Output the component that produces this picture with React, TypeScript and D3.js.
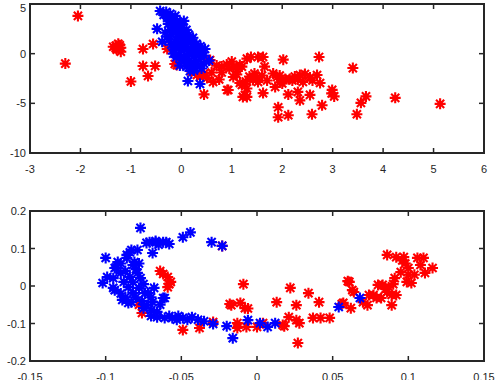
import { useEffect, useRef } from "react";
import * as d3 from "d3";

// top panel: [x, y]
const topRed: [number, number][] = [
  [-2.05, 3.8], [-2.3, -1.0], [-1.3, 0.8], [-1.25, 1.0], [-1.2, 0.6], [-1.28, 0.4], [-1.2, 0.2], [-1.35, 0.7],
  [-1.22, 0.85], [-1.3, 0.55],
  [-1.0, -2.8], [-0.76, -1.24], [-0.66, -2.25], [-0.52, -1.24], [-0.76, 0.47], [-0.56, 0.97], [-0.28, 0.47],
  [-0.13, -1.04], [0.45, -4.1], [0.57, -0.64], [0.9, -1.1], [1.03, -1.3], [1.2, -1.3], [0.37, -2.35], [0.63, -2.85],
  [1.03, -2.35], [1.16, -2.95], [0.93, -3.66], [0.31, -2.15], [0.51, -2.45], [1.3, -0.5], [1.38, -0.33],
  [1.52, -0.33], [1.62, -0.33], [2.02, -0.6], [2.73, -0.33], [3.4, -1.45], [3.66, -4.3], [3.56, -4.95],
  [3.48, -6.1], [4.24, -4.45], [5.13, -5.05], [2.99, -3.65], [3.03, -4.3], [2.98, -4.0], [2.79, -5.2],
  [2.59, -6.1], [2.12, -6.2], [1.92, -6.4], [1.92, -5.4], [2.12, -4.1], [2.35, -4.7], [2.31, -3.85],
  [2.55, -4.15], [2.75, -2.95], [2.69, -2.15], [2.45, -2.05], [2.35, -2.15], [2.41, -2.85], [2.15, -2.55],
  [2.06, -2.55], [1.9, -2.35], [1.82, -2.0], [1.86, -3.35], [1.62, -3.97], [1.52, -2.85], [1.42, -2.65],
  [1.3, -4.35], [1.22, -4.35], [1.2, -3.15], [1.16, -1.15], [0.91, -3.66], [1.26, -4.16], [2.31, -2.6],
  [2.55, -2.4], [1.7, -2.7], [1.6, -2.2], [1.45, -2.0], [1.35, -2.3], [1.3, -3.5], [1.1, -2.1], [0.8, -1.9],
  [0.75, -2.6], [0.8, -1.3], [1.0, -0.8], [1.65, -1.3], [1.95, -2.9], [2.25, -2.3], [2.6, -2.7], [2.0, -3.0],
  [0.2, -1.8], [0.45, -2.0], [0.6, -1.9], [-0.09, -1.15], [0.7, -1.2], [1.1, -1.6], [1.5, -2.4], [2.2, -2.7],
  [1.95, -2.2], [1.28, -2.8], [0.95, -1.5],
];

const topBlue: [number, number][] = [
  [-0.42, 4.3], [-0.3, 4.2], [-0.22, 4.0], [-0.28, 3.6], [-0.18, 3.5], [-0.1, 3.2], [-0.26, 3.0], [-0.15, 2.9],
  [-0.05, 2.8], [0.02, 2.6], [-0.48, 2.5], [-0.22, 2.4], [-0.1, 2.3], [0.05, 2.1], [0.15, 1.9], [-0.2, 1.9],
  [-0.05, 1.7], [0.1, 1.6], [0.23, 1.6], [-0.25, 1.4], [-0.38, 1.2], [-0.12, 1.2], [0.02, 1.2], [0.18, 1.1],
  [0.3, 1.0], [-0.2, 0.9], [-0.05, 0.8], [0.1, 0.7], [0.25, 0.6], [0.47, 0.47], [0.38, 0.4], [-0.15, 0.4],
  [0.0, 0.3], [0.15, 0.2], [0.3, 0.1], [-0.16, 0.0], [-0.05, -0.1], [0.1, -0.2], [0.25, -0.3], [0.4, -0.4],
  [0.55, -0.7], [0.0, -0.6], [0.15, -0.7], [0.3, -0.8], [0.45, -1.0], [-0.03, -1.2], [0.1, -1.3], [0.25, -1.4],
  [0.4, -1.5], [0.2, -1.1], [0.17, -1.75], [0.13, -2.75], [0.37, -3.05], [0.05, 3.3], [-0.12, 3.8],
  [0.08, 0.95], [0.2, 0.35], [0.35, -0.15], [-0.08, 2.0], [-0.2, 3.3], [-0.02, 3.0], [-0.15, 2.6],
  [-0.32, 2.1], [0.1, 2.4], [-0.28, 1.7], [0.2, 1.35], [-0.1, 1.45], [0.05, 1.9], [-0.12, 0.6], [0.12, 0.45],
  [0.05, -0.35], [0.2, -0.05], [-0.1, -0.35], [0.1, -0.95], [0.32, -1.2], [0.45, -0.2], [0.28, 0.3],
  [0.38, 0.75], [-0.35, 3.9], [0.25, -1.7],
];

// bottom panel: [x, y]
const botRed: [number, number][] = [
  [-0.064, 0.04], [-0.059, 0.024], [-0.057, 0.011], [-0.059, -0.003], [-0.023, 0.107], [-0.076, -0.072],
  [-0.078, -0.05], [-0.049, -0.117], [-0.038, -0.112], [-0.029, -0.096], [-0.009, 0.005], [-0.018, -0.048],
  [-0.011, -0.045], [-0.008, -0.059], [-0.013, -0.099], [-0.007, -0.109], [-0.013, -0.112], [-0.017, -0.051],
  [-0.006, -0.06], [0.0, -0.109], [0.004, -0.099], [0.013, -0.043], [0.022, -0.005], [0.026, -0.051],
  [0.034, -0.019], [0.041, -0.043], [0.018, -0.107], [0.021, -0.083], [0.026, -0.091], [0.028, -0.099],
  [0.027, -0.152], [0.037, -0.085], [0.042, -0.085], [0.048, -0.085], [0.017, -0.104], [0.057, -0.045],
  [0.061, 0.011], [0.063, -0.011], [0.062, -0.059], [0.07, -0.043], [0.073, -0.051], [0.074, -0.024],
  [0.079, -0.032], [0.08, 0.003], [0.06, 0.013], [0.064, -0.016], [0.056, -0.048], [0.077, -0.024],
  [0.083, 0.003], [0.086, -0.016], [0.089, -0.024], [0.089, -0.051], [0.092, -0.024], [0.086, 0.083],
  [0.092, 0.077], [0.097, 0.077], [0.095, 0.037], [0.1, 0.048], [0.099, 0.011], [0.102, 0.008],
  [0.106, 0.075], [0.11, 0.075], [0.108, 0.056], [0.111, 0.035], [0.116, 0.048], [0.091, 0.021],
  [0.087, -0.003], [0.082, -0.032], [0.098, 0.06], [0.104, 0.03], [0.096, 0.068], [0.1, 0.03],
  [0.085, -0.008], [0.09, 0.005], [-0.062, 0.032], [-0.058, 0.005],
];

const botBlue: [number, number][] = [
  [-0.1, 0.075], [-0.077, 0.155], [-0.102, 0.008], [-0.099, 0.024], [-0.094, -0.011], [-0.093, 0.05],
  [-0.089, -0.037], [-0.086, 0.083], [-0.083, 0.096], [-0.079, 0.096], [-0.081, 0.064], [-0.082, 0.01],
  [-0.077, 0.021], [-0.083, -0.043], [-0.075, -0.059], [-0.073, 0.115], [-0.067, 0.117], [-0.069, 0.088],
  [-0.062, 0.117], [-0.06, 0.117], [-0.072, -0.019], [-0.069, -0.043], [-0.062, -0.032], [-0.066, -0.083],
  [-0.061, -0.085], [-0.056, -0.085], [-0.049, -0.085], [-0.046, -0.09], [-0.039, -0.09], [-0.029, -0.101],
  [-0.02, -0.107], [-0.016, -0.139], [-0.049, 0.13], [-0.044, 0.143], [-0.03, 0.117], [-0.023, 0.107],
  [-0.094, 0.048], [-0.092, 0.064], [-0.086, 0.075], [-0.082, 0.056], [-0.084, 0.024], [-0.095, -0.005],
  [-0.085, -0.045], [-0.082, -0.019], [-0.074, -0.019], [-0.073, -0.051], [-0.066, -0.069], [-0.061, -0.032],
  [-0.071, 0.117], [-0.065, 0.11], [-0.095, 0.021], [-0.088, 0.011], [-0.085, -0.003], [-0.078, -0.005],
  [-0.07, -0.03], [-0.058, -0.08], [-0.053, -0.09], [-0.043, -0.083], [-0.035, -0.094], [-0.006, -0.091],
  [0.002, -0.099], [0.007, -0.109], [0.012, -0.099], [0.054, -0.056], [0.068, -0.032], [-0.09, 0.035],
  [-0.079, 0.035], [-0.087, 0.04], [-0.08, -0.03], [-0.076, -0.04], [-0.07, -0.065], [-0.078, 0.06],
  [-0.084, 0.09], [-0.09, 0.06], [-0.08, 0.045], [-0.075, 0.005], [-0.068, -0.005], [-0.064, -0.05],
  [-0.07, -0.08], [-0.052, -0.08], [-0.067, 0.12], [-0.058, 0.112], [-0.09, -0.02], [-0.087, -0.03],
];

const topXTicks = [-3, -2, -1, 0, 1, 2, 3, 4, 5, 6];
const topYTicks = [-10, -5, 0, 5];
const botXTicks = [-0.15, -0.1, -0.05, 0, 0.05, 0.1, 0.15];
const botYTicks = [-0.2, -0.1, 0, 0.1, 0.2];

const W = 496;
const H = 380;
const AXIS = "#262626";
const FONT = "Liberation Sans, Arial, sans-serif";

const star = (r: number) => {
  const d = r * 0.74;
  return `M${-r},0L${r},0M0,${-r}L0,${r}M${-d},${-d}L${d},${d}M${-d},${d}L${d},${-d}`;
};

const App = () => {
  const svgRef = useRef<SVGSVGElement>(null);

  useEffect(() => {
    const svg = d3.select(svgRef.current);
    svg.selectAll("*").remove();

    const drawPanel = (
      top: number, bottom: number,
      xDom: [number, number], yDom: [number, number],
      xTicks: number[], yTicks: number[],
      series: { pts: [number, number][]; color: string }[]
    ) => {
      const x = d3.scaleLinear().domain(xDom).range([30, 484]);
      const y = d3.scaleLinear().domain(yDom).range([bottom, top]);
      const g = svg.append("g");

      const clipId = `clip${top}`;
      g.append("clipPath").attr("id", clipId)
        .append("rect").attr("x", 30).attr("y", top).attr("width", 454).attr("height", bottom - top);

      const plot = g.append("g").attr("clip-path", `url(#${clipId})`);
      series.forEach((s) => {
        plot.selectAll(null).data(s.pts).enter().append("path")
          .attr("d", star(5.5))
          .attr("transform", (d) => `translate(${x(d[0])},${y(d[1])})`)
          .attr("stroke", s.color)
          .attr("stroke-width", 2.1)
          .attr("fill", "none");
      });

      const tl = 5;
      xTicks.forEach((t) => {
        g.append("line").attr("x1", x(t)).attr("x2", x(t)).attr("y1", bottom).attr("y2", bottom - tl)
          .attr("stroke", AXIS).attr("stroke-width", 1.5);
        g.append("line").attr("x1", x(t)).attr("x2", x(t)).attr("y1", top).attr("y2", top + tl)
          .attr("stroke", AXIS).attr("stroke-width", 1.5);
        g.append("text").attr("x", x(t)).attr("y", bottom + 20)
          .attr("text-anchor", "middle").attr("fill", AXIS)
          .attr("font-family", FONT).attr("font-size", 11)
          .text(String(t));
      });
      yTicks.forEach((t) => {
        g.append("line").attr("x1", 30).attr("x2", 30 + tl).attr("y1", y(t)).attr("y2", y(t))
          .attr("stroke", AXIS).attr("stroke-width", 1.5);
        g.append("line").attr("x1", 484).attr("x2", 484 - tl).attr("y1", y(t)).attr("y2", y(t))
          .attr("stroke", AXIS).attr("stroke-width", 1.5);
        g.append("text").attr("x", 26).attr("y", Math.max(y(t) + 4, 12))
          .attr("text-anchor", "end").attr("fill", AXIS)
          .attr("font-family", FONT).attr("font-size", 11)
          .text(String(t));
      });

      g.append("rect").attr("x", 30).attr("y", top).attr("width", 454).attr("height", bottom - top)
        .attr("fill", "none").attr("stroke", AXIS).attr("stroke-width", 2);
    };

    drawPanel(4, 153, [-3, 6], [-10, 5], topXTicks, topYTicks, [
      { pts: topRed, color: "#ff0000" },
      { pts: topBlue, color: "#0000ff" },
    ]);
    drawPanel(211, 361, [-0.15, 0.15], [-0.2, 0.2], botXTicks, botYTicks, [
      { pts: botRed, color: "#ff0000" },
      { pts: botBlue, color: "#0000ff" },
    ]);
  }, []);

  return (
    <svg
      ref={svgRef}
      width={W}
      height={H}
      style={{ position: "absolute", left: 0, top: 0, background: "#fff" }}
    />
  );
};

export default App;
